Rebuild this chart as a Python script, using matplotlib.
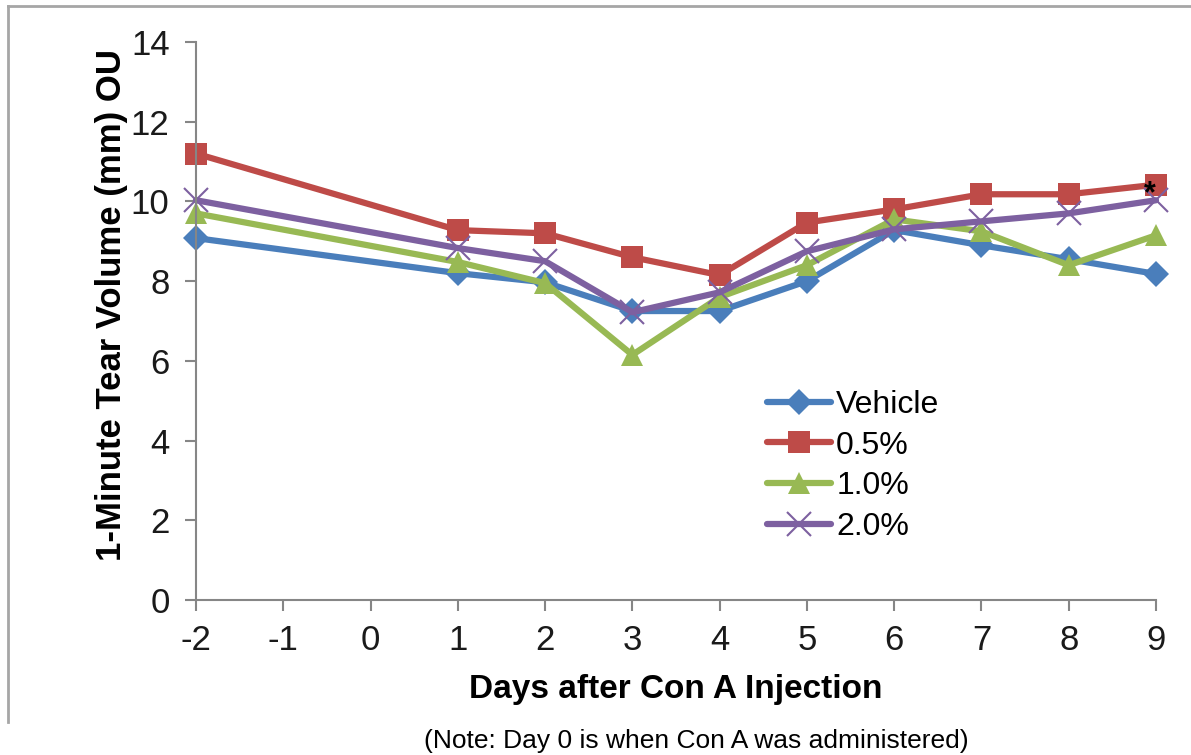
import numpy as np
import matplotlib
matplotlib.use("Agg")
import matplotlib.pyplot as plt
from matplotlib.lines import Line2D

plt.rcParams['font.family'] = ['Liberation Sans', 'DejaVu Sans']
plt.rcParams['axes.unicode_minus'] = False

# Данные
days = [-2, 1, 2, 3, 4, 5, 6, 7, 8, 9]
vehicle = [9.08, 8.2, 7.97, 7.25, 7.25, 8.0, 9.28, 8.9, 8.55, 8.18]
conc_05 = [11.2, 9.28, 9.2, 8.6, 8.15, 9.47, 9.8, 10.18, 10.18, 10.42]
conc_10 = [9.7, 8.48, 7.95, 6.15, 7.6, 8.4, 9.55, 9.25, 8.4, 9.15]
conc_20 = [10.03, 8.83, 8.5, 7.22, 7.72, 8.75, 9.3, 9.5, 9.7, 10.03]
labels = ['Vehicle', '0.5%', '1.0%', '2.0%']
x_ticks = list(range(-2, 10))
y_ticks = list(range(0, 15, 2))

colors = ['#4A7EBB', '#BE4B48', '#98B954', '#7D60A0']
markers = ['D', 's', '^', 'x']
msizes = [13, 15.5, 16, 17]

fig = plt.figure(figsize=(11.91, 7.55), dpi=100)
ax = fig.add_axes([196 / 1191, 1 - 600 / 755, 960 / 1191, 558 / 755])

series = [vehicle, conc_05, conc_10, conc_20]
for vals, lab, c, m, ms in zip(series, labels, colors, markers, msizes):
    ax.plot(days, vals, color=c, lw=4.5, marker=m, markersize=ms,
            markeredgewidth=1.5 if m == 'x' else 0, markeredgecolor=c,
            label=lab, clip_on=False, solid_capstyle='round')

ax.set_xlim(-2, 9)
ax.set_ylim(0, 14)
ax.set_xticks(x_ticks)
ax.set_yticks(y_ticks)

grey = '#868686'
for s in ['top', 'right']:
    ax.spines[s].set_visible(False)
for s in ['left', 'bottom']:
    ax.spines[s].set_color(grey)
    ax.spines[s].set_linewidth(1.5)
ax.tick_params(axis='both', colors=grey, length=8, width=1.5,
               labelsize=25, labelcolor='#1a1a1a')
ax.tick_params(axis='x', pad=9.5)
ax.tick_params(axis='y', pad=11)

ax.set_xlabel('Days after Con A Injection', fontsize=24, fontweight='bold',
              labelpad=12)
ax.set_ylabel('1-Minute Tear Volume (mm) OU', fontsize=25, fontweight='bold')
ax.yaxis.set_label_coords(-68 / 960, 0.529)

# звёздочка у последней точки
ax.text(8.93, 10.18, '*', fontsize=22, fontweight='bold', ha='center',
        va='center')

leg = ax.legend(loc='upper left', bbox_to_anchor=(0.631, 0.505),
                bbox_transform=fig.transFigure, frameon=False, fontsize=23,
                handlelength=2.0, handletextpad=0.15, labelspacing=0.34,
                borderpad=0)

fig.text(0.5845, 0.002, '(Note: Day 0 is when Con A was administered)',
         fontsize=19, ha='center', va='bottom')

# рамка вокруг рисунка (сверху и слева)
fig.add_artist(Line2D([8 / 1191, 1], [1 - 6 / 755, 1 - 6 / 755],
                      color='#a6a6a6', lw=2, transform=fig.transFigure))
fig.add_artist(Line2D([8 / 1191, 8 / 1191], [1 - 6 / 755, 1 - 722 / 755],
                      color='#a6a6a6', lw=2, transform=fig.transFigure))

fig.savefig('out.png', dpi=100)
